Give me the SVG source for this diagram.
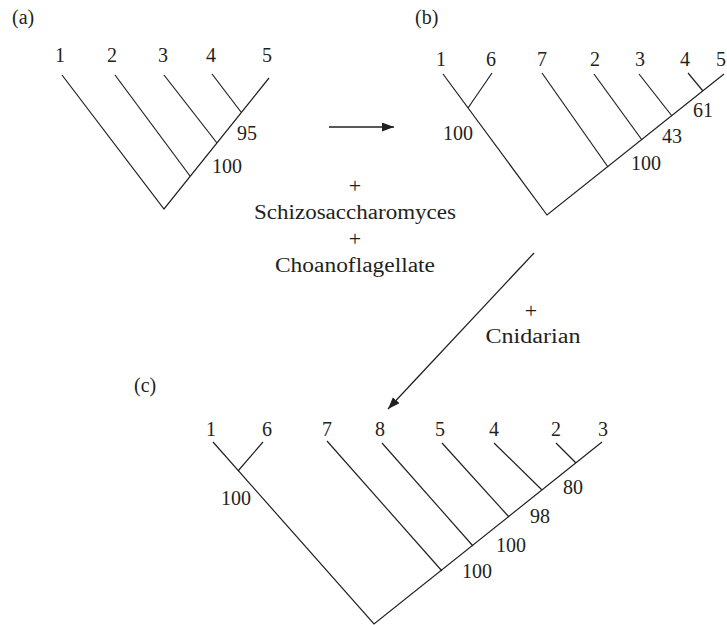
<svg xmlns="http://www.w3.org/2000/svg" width="727" height="625" viewBox="0 0 727 625">
  <style>
    text { font-family: "Liberation Serif", "Times New Roman", serif; font-size: 20px; fill: #231f20; }
    .leaf { text-anchor: middle; }
    .mid { text-anchor: middle; }
    .plus { text-anchor: middle; font-size: 22px; }
    .br { fill: none; stroke: #231f20; stroke-width: 1.2; stroke-linecap: butt; }
    .arr { fill: none; stroke: #231f20; stroke-width: 1.3; }
  </style>
  <defs>
    <marker id="ah" markerUnits="userSpaceOnUse" markerWidth="13" markerHeight="11" refX="12" refY="4.5" orient="auto">
      <path d="M0,0 L12,4.5 L0,9 z" fill="#231f20"/>
    </marker>
  </defs>
  <rect width="727" height="625" fill="#ffffff"/>

  <!-- Panel (a) -->
  <g id="panel-a">
    <text x="12" y="24">(a)</text>
    <g id="tree-a">
      <path class="br" d="M62,75 L164,209 L269,78"/>
      <path class="br" d="M115,75 L190,176"/>
      <path class="br" d="M164,75 L217,143"/>
      <path class="br" d="M212,74 L241,112"/>
    </g>
    <g id="labels-a">
      <text class="leaf" x="60" y="62">1</text>
      <text class="leaf" x="112" y="62">2</text>
      <text class="leaf" x="163" y="62">3</text>
      <text class="leaf" x="211" y="62">4</text>
      <text class="leaf" x="267" y="62">5</text>
      <text x="237" y="140">95</text>
      <text x="212" y="173">100</text>
    </g>
  </g>

  <!-- Panel (b) -->
  <g id="panel-b">
    <text x="415" y="24">(b)</text>
    <g id="tree-b">
      <path class="br" d="M443,74 L547,215 L724,74"/>
      <path class="br" d="M492,73 L468,108"/>
      <path class="br" d="M542,73 L608,167"/>
      <path class="br" d="M594,74 L642,140"/>
      <path class="br" d="M639,74 L672,116"/>
      <path class="br" d="M688,73 L703,91"/>
    </g>
    <g id="labels-b">
      <text class="leaf" x="441" y="66">1</text>
      <text class="leaf" x="491" y="66">6</text>
      <text class="leaf" x="542" y="66">7</text>
      <text class="leaf" x="595" y="66">2</text>
      <text class="leaf" x="640" y="66">3</text>
      <text class="leaf" x="685" y="66">4</text>
      <text x="716" y="66">5</text>
      <text x="443" y="140">100</text>
      <text x="693" y="117">61</text>
      <text x="662" y="143">43</text>
      <text x="631" y="170">100</text>
    </g>
  </g>

  <!-- Panel (c) -->
  <g id="panel-c">
    <text x="134" y="392">(c)</text>
    <g id="tree-c">
      <path class="br" d="M213,442 L374,624 L602,442"/>
      <path class="br" d="M263,442 L238,471"/>
      <path class="br" d="M327,441 L442,571"/>
      <path class="br" d="M382,443 L473,546"/>
      <path class="br" d="M442,443 L509,517"/>
      <path class="br" d="M494,443 L542,490"/>
      <path class="br" d="M556,443 L576,463"/>
    </g>
    <g id="labels-c">
      <text class="leaf" x="211" y="436">1</text>
      <text class="leaf" x="267" y="436">6</text>
      <text class="leaf" x="327" y="436">7</text>
      <text class="leaf" x="380" y="436">8</text>
      <text class="leaf" x="440" y="436">5</text>
      <text class="leaf" x="494" y="436">4</text>
      <text class="leaf" x="556" y="436">2</text>
      <text class="leaf" x="603" y="436">3</text>
      <text x="221" y="505">100</text>
      <text x="563" y="494">80</text>
      <text x="530" y="523">98</text>
      <text x="496" y="552">100</text>
      <text x="462" y="578">100</text>
    </g>
  </g>

  <!-- Connectors -->
  <g id="connectors">
    <line class="arr" x1="329" y1="127" x2="394" y2="127" marker-end="url(#ah)"/>
    <line class="arr" x1="534" y1="253" x2="388" y2="409" marker-end="url(#ah)"/>
  </g>

  <!-- Connector labels -->
  <g id="label-ab">
    <text class="plus" x="355" y="193">+</text>
    <text class="mid" x="355" y="219" textLength="202" lengthAdjust="spacingAndGlyphs">Schizosaccharomyces</text>
    <text class="plus" x="355" y="246">+</text>
    <text class="mid" x="355" y="272" textLength="160" lengthAdjust="spacingAndGlyphs">Choanoflagellate</text>
  </g>
  <g id="label-bc">
    <text class="plus" x="531" y="318">+</text>
    <text class="mid" x="533" y="343" textLength="95" lengthAdjust="spacingAndGlyphs">Cnidarian</text>
  </g>
</svg>
